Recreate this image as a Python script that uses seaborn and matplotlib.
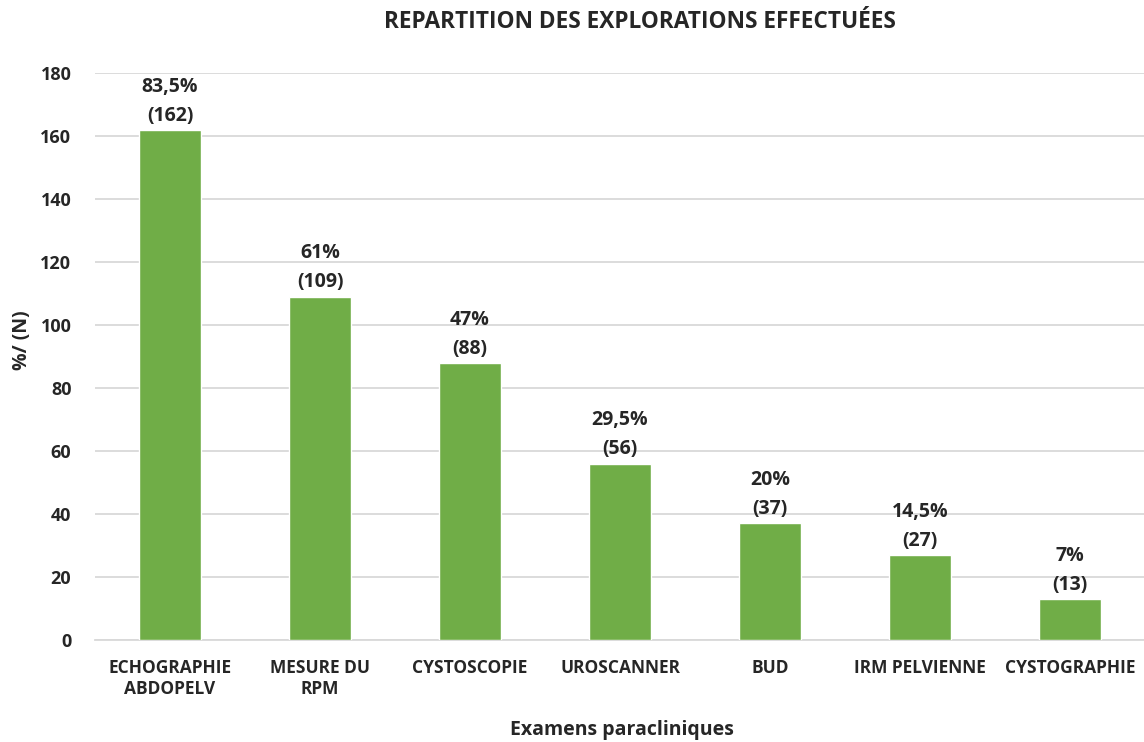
import matplotlib
matplotlib.use("Agg")
import matplotlib.pyplot as plt
import seaborn as sns
import pandas as pd

categories = ["ECHOGRAPHIE\nABDOPELV", "MESURE DU\nRPM", "CYSTOSCOPIE", "UROSCANNER",
              "BUD", "IRM PELVIENNE", "CYSTOGRAPHIE"]
counts = [162, 109, 88, 56, 37, 27, 13]
percents = ["83,5%", "61%", "47%", "29,5%", "20%", "14,5%", "7%"]
yticks = [0, 20, 40, 60, 80, 100, 120, 140, 160, 180]

sns.set_theme(style="white")
plt.rcParams['font.family'] = ['Open Sans', 'DejaVu Sans']
plt.rcParams['font.weight'] = 'bold'

df = pd.DataFrame({"cat": categories, "n": counts})

fig = plt.figure(figsize=(11.44, 7.42), dpi=100)
ax = fig.add_axes([95/1144, 1 - 640/742, 1050/1144, (640 - 73)/742])

sns.barplot(data=df, x="cat", y="n", color="#70AD47", width=0.41, saturation=1,
            ax=ax, zorder=3)

ax.set_ylim(0, 180)
ax.set_yticks(yticks)
ax.set_yticklabels([str(t) for t in yticks], fontsize=13, fontweight='bold', color='#262626')
ax.set_xticklabels(categories, fontsize=12.5, fontweight='bold', color='#262626')
ax.tick_params(axis='y', length=0, pad=17)
ax.tick_params(axis='x', length=0, pad=14)
ax.grid(axis='y', color='#D9D9D9', linewidth=1.3, zorder=0)
for s in ["top", "right", "left"]:
    ax.spines[s].set_visible(False)
ax.spines["bottom"].set_color('#D9D9D9')
ax.spines["bottom"].set_linewidth(1.3)

for p, c, pc in zip(ax.patches, counts, percents):
    x = p.get_x() + p.get_width() / 2
    ax.annotate(f"{pc}\n({c})", (x, c), xytext=(0, 3), textcoords="offset points",
                ha="center", va="bottom", fontsize=14, fontweight='bold',
                color='#262626', linespacing=1.6)

ax.set_xlabel("Examens paracliniques", fontsize=14, fontweight='bold', color='#262626')
ax.set_ylabel("%/ (N)", fontsize=14, fontweight='bold', color='#262626')
ax.xaxis.set_label_coords((622 - 95) / 1050, (640 - 730) / 567)
ax.yaxis.set_label_coords((22 - 95) / 1050, (640 - 340) / 567)
ax.xaxis.label.set_va("center")
ax.yaxis.label.set_va("center")

fig.text(640/1144, 1 - 22/742, "REPARTITION DES EXPLORATIONS EFFECTUÉES", ha="center", va="center",
         fontsize=16.3, fontweight='bold', color='#262626')

fig.savefig("out.png", dpi=100)
